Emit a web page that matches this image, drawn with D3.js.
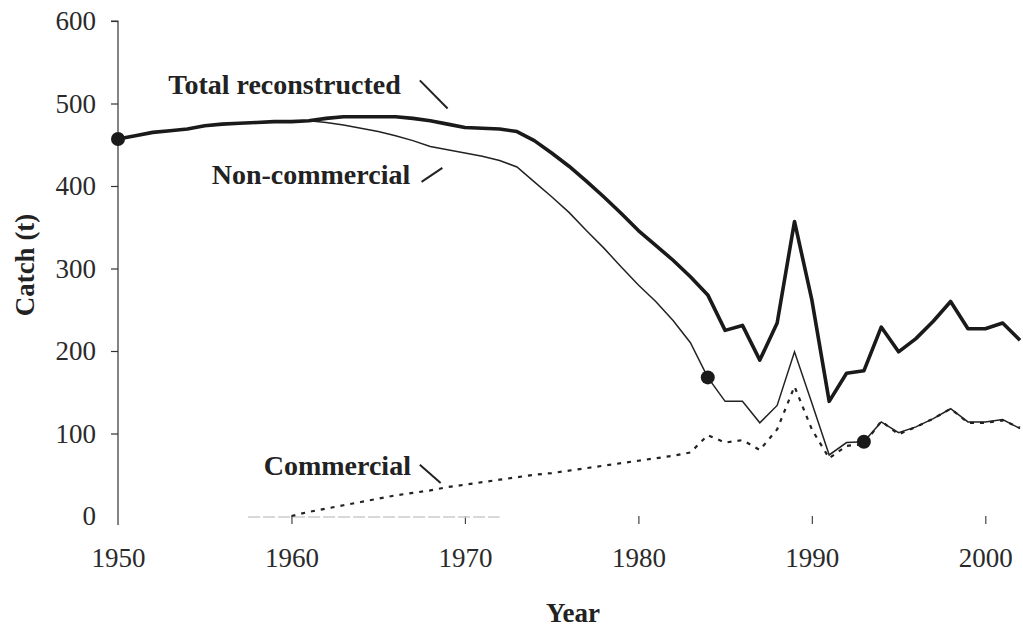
<!DOCTYPE html>
<html>
<head>
<meta charset="utf-8">
<script src="https://cdn.jsdelivr.net/npm/d3@7"></script>
<style>
  body { margin: 0; background: #fff; }
  svg { display: block; }
</style>
</head>
<body>
<div id="chart"></div>
<script>
// values (tonnes)
var years = d3.range(1950, 2003);
var total = [457, 461, 465, 467, 469, 473, 475, 476, 477, 478,
             478, 479, 482, 484, 484, 484, 484, 482, 479, 475,
             471, 470, 469, 466, 455, 440, 424, 406, 387, 367,
             346, 328, 310, 290, 268, 225, 231, 189, 234, 357,
             262, 139, 173, 176, 229, 199, 215, 236, 260, 227,
             227, 234, 213];
var nonCommercial = [457, 461, 465, 467, 469, 473, 475, 476, 477, 478,
                     478, 479, 477, 474, 470, 466, 461, 455, 448, 444,
                     440, 436, 431, 423, 405, 387, 368, 346, 325, 302,
                     280, 260, 237, 210, 168, 139, 139, 113, 134, 199,
                     137, 74, 89, 90, 114, 101, 108, 118, 130, 114,
                     114, 117, 106];
var commYears = d3.range(1960, 2003);
var commercial = [0, 5, 9, 13, 17, 21, 25, 28, 31, 35,
                  38, 41, 44, 47, 50, 52, 55, 58, 61, 64,
                  67, 70, 73, 77, 98, 89, 92, 80, 105, 157,
                  105, 70, 85, 87, 115, 99, 108, 118, 130, 113,
                  113, 116, 107];
var yTicks = [0, 100, 200, 300, 400, 500, 600];
var xTicks = [1950, 1960, 1970, 1980, 1990, 2000];
var dots = [
  { year: 1950, value: 457 },
  { year: 1984, value: 168 },
  { year: 1993, value: 90 }
];
var labels = [
  { text: "Total reconstructed", x: 1952.9, y: 512, lx1: 1967.4, ly1: 528, lx2: 1969.0, ly2: 494 },
  { text: "Non-commercial", x: 1955.4, y: 402, lx1: 1967.5, ly1: 405, lx2: 1968.7, ly2: 422 },
  { text: "Commercial", x: 1958.4, y: 50, lx1: 1967.4, ly1: 62, lx2: 1968.6, ly2: 40 }
];

var width = 1023, height = 629;
var serif = "'Liberation Serif', 'Times New Roman', Times, serif";
var x = d3.scaleLinear().domain([1950, 2002]).range([118, 1020]);
var y = d3.scaleLinear().domain([0, 600]).range([516, 21]);

var svg = d3.select("#chart").append("svg")
    .attr("width", width)
    .attr("height", height)
    .style("font-family", serif);

// y axis
var yAxis = svg.append("g")
    .attr("transform", "translate(118,0)")
    .call(d3.axisLeft(y).tickValues(yTicks).tickSize(7).tickPadding(15));
yAxis.attr("font-family", null).attr("font-size", null);
yAxis.select(".domain").attr("stroke", "#333").attr("stroke-width", 1.2)
    .attr("d", "M-7," + y(600) + "H0V" + (y(0) + 9));
yAxis.selectAll(".tick line").attr("stroke", "#333").attr("stroke-width", 1.2)
    .attr("opacity", function (d) { return d === 0 ? 0 : 1; });
yAxis.selectAll(".tick text")
    .style("font-family", serif)
    .attr("font-size", 27)
    .attr("fill", "#2a2a2a");

// x axis (no baseline visible, only ticks)
var xAxis = svg.append("g")
    .attr("transform", "translate(0," + y(0) + ")")
    .call(d3.axisBottom(x).tickValues(xTicks).tickFormat(d3.format("d")).tickSize(8).tickPadding(24));
xAxis.attr("font-family", null).attr("font-size", null);
xAxis.select(".domain").remove();
xAxis.selectAll(".tick line")
    .attr("stroke", "#444")
    .attr("stroke-width", 1.2)
    .attr("opacity", function (d) { return d === 1950 ? 0 : 1; });
xAxis.selectAll(".tick text")
    .style("font-family", serif)
    .attr("font-size", 27)
    .attr("fill", "#2a2a2a");

// faint baseline fragments from the scan
svg.append("line")
    .attr("x1", x(1957.5)).attr("x2", x(1972))
    .attr("y1", y(0) + 1).attr("y2", y(0) + 1)
    .attr("stroke", "#ccc").attr("stroke-width", 1.5)
    .attr("stroke-dasharray", "12,3");

var line = d3.line()
    .x(function (d) { return x(d[0]); })
    .y(function (d) { return y(d[1]); });

svg.append("path")
    .datum(commYears.map(function (yr, i) { return [yr, commercial[i]]; }))
    .attr("d", line)
    .attr("fill", "none")
    .attr("stroke", "#222")
    .attr("stroke-width", 2.2)
    .attr("stroke-dasharray", "4,6");

svg.append("path")
    .datum(years.map(function (yr, i) { return [yr, nonCommercial[i]]; }))
    .attr("d", line)
    .attr("fill", "none")
    .attr("stroke", "#222")
    .attr("stroke-width", 1.5);

svg.append("path")
    .datum(years.map(function (yr, i) { return [yr, total[i]]; }))
    .attr("d", line)
    .attr("fill", "none")
    .attr("stroke", "#1a1a1a")
    .attr("stroke-width", 3.6)
    .attr("stroke-linejoin", "round");

svg.selectAll(".dot")
    .data(dots)
    .enter().append("circle")
    .attr("class", "dot")
    .attr("cx", function (d) { return x(d.year); })
    .attr("cy", function (d) { return y(d.value); })
    .attr("r", 7)
    .attr("fill", "#1a1a1a");

// series labels with leader lines
var lab = svg.selectAll(".lab")
    .data(labels)
    .enter().append("g")
    .attr("class", "lab");
lab.append("text")
    .attr("x", function (d) { return x(d.x); })
    .attr("y", function (d) { return y(d.y); })
    .attr("font-size", 28)
    .attr("font-weight", "bold")
    .attr("fill", "#222")
    .text(function (d) { return d.text; });
lab.append("line")
    .attr("x1", function (d) { return x(d.lx1); })
    .attr("y1", function (d) { return y(d.ly1); })
    .attr("x2", function (d) { return x(d.lx2); })
    .attr("y2", function (d) { return y(d.ly2); })
    .attr("stroke", "#222")
    .attr("stroke-width", 2);

// axis titles
svg.append("text")
    .attr("transform", "translate(34,265) rotate(-90)")
    .attr("text-anchor", "middle")
    .attr("font-size", 27)
    .attr("font-weight", "bold")
    .attr("fill", "#222")
    .text("Catch (t)");

svg.append("text")
    .attr("x", 573)
    .attr("y", 622)
    .attr("text-anchor", "middle")
    .attr("font-size", 27)
    .attr("font-weight", "bold")
    .attr("fill", "#222")
    .text("Year");
</script>
</body>
</html>
